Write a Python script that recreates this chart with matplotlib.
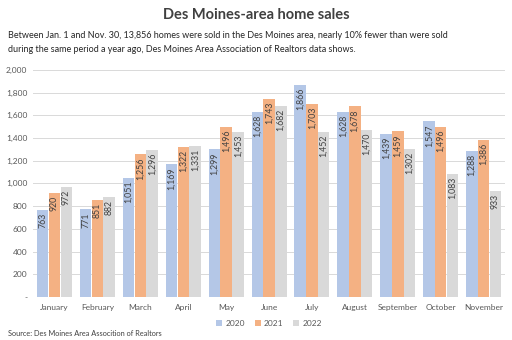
import matplotlib
matplotlib.use("Agg")
import matplotlib.pyplot as plt
import numpy as np
from matplotlib.ticker import FuncFormatter

months = ["January", "February", "March", "April", "May", "June", "July",
          "August", "September", "October", "November"]
sales_2020 = [763, 771, 1051, 1169, 1299, 1628, 1866, 1628, 1439, 1547, 1288]
sales_2021 = [920, 851, 1256, 1322, 1496, 1743, 1703, 1678, 1459, 1496, 1386]
sales_2022 = [972, 882, 1296, 1331, 1453, 1682, 1452, 1470, 1302, 1083, 933]
series_names = ["2020", "2021", "2022"]
colors = ["#b4c7e7", "#f4b183", "#d9d9d9"]

plt.rcParams['font.family'] = ['Lato', 'DejaVu Sans']
txt = "#404040"

fig = plt.figure(figsize=(5.12, 3.40), dpi=100)
ax = fig.add_axes([0.0645, 0.1265, 0.922, 0.668])

x = np.arange(len(months))
w = 0.275
for i, (vals, name, c) in enumerate(zip([sales_2020, sales_2021, sales_2022], series_names, colors)):
    pos = x + (i - 1) * w
    ax.bar(pos, vals, width=w * 0.97, color=c, label=name, zorder=2)
    for px, v in zip(pos, vals):
        ax.text(px, v - 25, f"{v:,}", rotation=90, ha='center', va='top',
                fontsize=6.3, color=txt, zorder=3)

ax.set_ylim(0, 2000)
ax.set_xlim(-0.5, len(months) - 0.5)
ax.set_yticks(range(0, 2001, 200))
ax.yaxis.set_major_formatter(FuncFormatter(lambda v, p: "-" if v == 0 else f"{int(v):,}"))
ax.set_xticks(x)
ax.set_xticklabels(months)
ax.tick_params(axis='both', length=0, labelsize=6, colors="#595959")
ax.tick_params(axis='y', pad=4)
ax.tick_params(axis='x', pad=5)
ax.grid(axis='y', color="#d9d9d9", linewidth=0.7, zorder=0)
for s in ax.spines.values():
    s.set_visible(False)

fig.text(0.5, 0.955, "Des Moines-area home sales", ha='center', va='center',
         fontsize=10.5, fontweight='bold', color=txt)
fig.text(0.016, 0.897, "Between Jan. 1 and Nov. 30, 13,856 homes were sold in the Des Moines area, nearly 10% fewer than were sold",
         ha='left', va='center', fontsize=6.5, color="#262626")
fig.text(0.016, 0.853, "during the same period a year ago, Des Moines Area Association of Realtors data shows.",
         ha='left', va='center', fontsize=6.5, color="#262626")

ax.legend(loc='center', bbox_to_anchor=(0.5, -0.115), ncol=3, frameon=False,
          fontsize=6, handlelength=0.7, handleheight=0.7, columnspacing=1.2,
          handletextpad=0.4, labelcolor="#595959")
fig.text(0.016, 0.018, "Source: Des Moines Area Assocition of Realtors", ha='left', va='center',
         fontsize=5.3, color="#404040")

fig.savefig("out.png", dpi=100)
